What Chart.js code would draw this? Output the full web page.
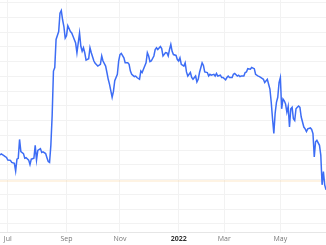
<!DOCTYPE html>
<html>
<head>
<meta charset="utf-8">
<script src="https://cdn.jsdelivr.net/npm/chart.js@4"></script>
<style>
  html, body { margin: 0; padding: 0; background: #fff; }
  #chart { display: block; }
</style>
</head>
<body>
<canvas id="chart" width="326" height="245"></canvas>
<script>
// Trading-day index of each close, and the close itself
const days = [
    0, 1, 3, 4, 5, 6, 8, 9, 11, 12, 13, 14, 15, 16, 18, 19, 20, 22, 23, 24,
    26, 27, 28, 29, 31, 32, 33, 35, 36, 37, 38, 39, 40, 41, 42, 43, 45, 46, 47, 48,
    49, 50, 51, 52, 54, 55, 56, 58, 59, 61, 62, 63, 64, 65, 66, 68, 69, 70, 72, 73,
    75, 77, 78, 79, 81, 82, 83, 84, 86, 87, 88, 90, 91, 92, 93, 95, 96, 98, 99, 100,
    101, 103, 104, 105, 107, 108, 109, 110, 112, 113, 114, 115, 116, 118, 119, 120, 121, 123, 124, 125,
    127, 128, 129, 130, 131, 132, 133, 135, 136, 137, 138, 139, 141, 142, 143, 144, 146, 147, 148, 150,
    151, 152, 153, 155, 156, 157, 159, 160, 161, 162, 164, 165, 166, 167, 169, 170, 171, 173, 174, 175,
    176, 178, 179, 180, 182, 183, 184, 185, 187, 188, 189, 190, 192, 193, 195, 196, 198, 199, 201, 202,
    203, 205, 206, 207, 208, 209, 210, 211, 212, 213, 214, 215, 216, 217, 218, 219, 220, 221, 222, 223,
    224, 225, 226, 227, 228, 229, 230, 231, 233, 234, 235, 236, 238, 239, 240, 241, 242, 243, 245, 246,
    247, 248, 249, 250
];
const prices = [
    43.3, 43.7, 43.1, 42.8, 42.5, 41.6, 41.5, 40.8, 40.5, 37.9, 41.9, 42.2, 48.6, 44.5, 43.8, 42.2, 42.4, 41.6, 40.1, 41.9,
    42.2, 46.6, 41.6, 44.9, 45.5, 44.2, 44.4, 43.8, 42.4, 41.1, 40.8, 46.6, 56.7, 71.8, 73.0, 82.5, 85.2, 91.4, 92.3, 89.2,
    86.9, 83.0, 83.8, 87.2, 85.2, 84.7, 83.6, 81.3, 78.0, 84.7, 80.2, 78.5, 79.7, 78.0, 75.5, 76.0, 79.7, 78.0, 75.2, 74.4,
    73.5, 74.1, 76.9, 75.2, 73.5, 71.3, 69.0, 67.3, 62.9, 64.9, 68.5, 70.7, 75.2, 77.4, 77.8, 76.3, 74.6, 74.6, 74.1, 71.8,
    70.7, 69.9, 70.1, 69.6, 69.0, 71.8, 71.3, 72.4, 74.6, 78.0, 76.9, 75.0, 75.2, 76.9, 79.1, 79.7, 79.1, 80.1, 79.4, 76.9,
    78.1, 78.0, 76.9, 79.1, 80.8, 78.5, 77.4, 77.1, 75.7, 75.2, 76.3, 74.1, 73.5, 74.6, 71.5, 70.1, 71.3, 69.6, 69.0, 70.1,
    68.1, 69.0, 71.3, 74.6, 73.7, 71.5, 71.3, 70.1, 70.7, 70.4, 70.7, 70.1, 71.0, 70.1, 70.4, 69.6, 69.6, 68.8, 69.6, 70.1,
    69.6, 69.6, 70.7, 71.0, 70.1, 70.4, 69.9, 70.1, 70.1, 71.3, 71.5, 72.6, 72.4, 73.0, 72.6, 70.7, 70.1, 69.9, 69.3, 69.0,
    67.9, 69.0, 67.3, 65.7, 61.2, 55.6, 50.6, 57.5, 61.2, 62.9, 67.9, 69.6, 59.0, 62.3, 61.7, 60.6, 57.8, 59.8, 52.8, 59.0,
    59.5, 55.6, 55.0, 59.0, 59.5, 59.9, 59.5, 56.2, 52.8, 52.2, 51.3, 52.2, 52.5, 52.0, 50.6, 42.7, 47.8, 48.3, 46.6, 43.3,
    33.2, 37.7, 33.2, 31.5
];

// Reference level (faint orange line)
const refLevel = 34.5;

// Axis ticks
const tickDays = [6, 51, 92, 137, 172, 215];
const tickLabels = ['Jul', 'Sep', 'Nov', '2022', 'Mar', 'May'];

const priceData = days.map((d, i) => ({ x: d, y: prices[i] }));
const refData = [
    { x: days[0], y: refLevel },
    { x: days[days.length - 1], y: refLevel }
];

new Chart(document.getElementById('chart'), {
    type: 'line',
    data: {
        datasets: [{
            data: priceData,
            borderColor: '#3d6df5',
            borderWidth: 1.5,
            pointRadius: 0,
            tension: 0,
            fill: false
        }, {
            data: refData,
            borderColor: 'rgba(250, 200, 130, 0.45)',
            borderWidth: 1,
            pointRadius: 0,
            fill: false
        }]
    },
    options: {
        responsive: false,
        animation: false,
        layout: { padding: 0 },
        plugins: {
            legend: { display: false },
            tooltip: { enabled: false }
        },
        scales: {
            x: {
                type: 'linear',
                min: 0,
                max: 250,
                afterBuildTicks: axis => {
                    axis.ticks = tickDays.map(v => ({ value: v }));
                },
                grid: {
                    color: '#f2f2f2',
                    drawTicks: false
                },
                border: { color: '#e6e6e6' },
                ticks: {
                    autoSkip: false,
                    maxRotation: 0,
                    padding: 2,
                    font: ctx => ({
                        family: 'Open Sans',
                        size: 7,
                        weight: tickLabels[ctx.index] === '2022' ? 'bold' : 'normal'
                    }),
                    color: ctx => tickLabels[ctx.index] === '2022' ? '#333' : '#777',
                    callback: (value, index) => tickLabels[index]
                }
            },
            y: {
                min: 17,
                max: 95.9,
                grid: {
                    color: '#f2f2f2',
                    drawTicks: false
                },
                border: { display: false },
                ticks: {
                    display: false,
                    stepSize: 5,
                    includeBounds: false
                }
            }
        }
    }
});
</script>
</body>
</html>
